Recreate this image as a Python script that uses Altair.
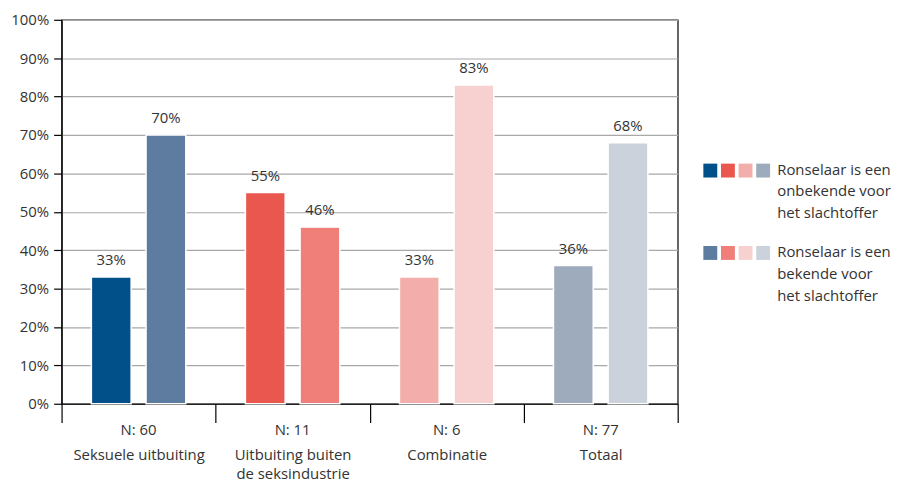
import altair as alt
import pandas as pd

categories = ["Seksuele uitbuiting", "Uitbuiting buiten de seksindustrie", "Combinatie", "Totaal"]
n_labels = ["N: 60", "N: 11", "N: 6", "N: 77"]
series = ["onbekend", "bekend"]
values_onbekend = [33, 55, 33, 36]
values_bekend = [70, 46, 83, 68]
colors_onbekend = ["#01508a", "#e9574f", "#f3aeab", "#9eabbd"]
colors_bekend = ["#5e7ca0", "#ef7f78", "#f7d1d0", "#cbd2dc"]
legend_texts = ["Ronselaar is een\nonbekende voor\nhet slachtoffer",
                "Ronselaar is een\nbekende voor\nhet slachtoffer"]

FONT = "Open Sans"
FS = 15
TXT = "#333333"
W, H = 621, 387

rows = []
for i, c in enumerate(categories):
    rows.append({"cat": c, "ser": "onbekend", "val": values_onbekend[i],
                 "key": f"{c}|onbekend", "lab": f"{values_onbekend[i]}%"})
    rows.append({"cat": c, "ser": "bekend", "val": values_bekend[i],
                 "key": f"{c}|bekend", "lab": f"{values_bekend[i]}%"})
df = pd.DataFrame(rows)
key_domain = [f"{c}|{s}" for c in categories for s in series]
key_range = [col for pair in zip(colors_onbekend, colors_bekend) for col in pair]

ndf = pd.DataFrame({"cat": categories, "n": n_labels})

xaxis = alt.Axis(tickBand="extent", tickSize=19, tickColor="#000", tickWidth=1.2,
                 domainColor="#000", domainWidth=1.2, labelAngle=0,
                 labelPadding=25, labelBaseline="top", labelFontSize=FS,
                 labelFont=FONT, labelColor=TXT, labelLineHeight=19,
                 labelExpr="datum.label == 'Uitbuiting buiten de seksindustrie' ? ['Uitbuiting buiten', 'de seksindustrie'] : datum.label")
xenc = alt.X("cat:N", sort=categories, title=None,
             scale=alt.Scale(paddingInner=0, paddingOuter=0), axis=xaxis)
xoff = alt.XOffset("ser:N", sort=series,
                   scale=alt.Scale(paddingInner=0.2727, paddingOuter=0.545))
yaxis = alt.Axis(values=list(range(0, 101, 10)), labelExpr="datum.value + '%'",
                 tickSize=8, tickColor="#000", tickWidth=1.2, domainColor="#000",
                 domainWidth=1.2, labelPadding=5, labelFontSize=FS, labelFont=FONT,
                 labelColor=TXT, grid=True, gridColor="#a8a8a8", gridWidth=1.2,
                 labelOverlap=False)
yenc = alt.Y("val:Q", title=None, scale=alt.Scale(domain=[0, 100]), axis=yaxis)

bars = alt.Chart(df).mark_bar(stroke="white", strokeWidth=1.5).encode(
    x=xenc, xOffset=xoff, y=yenc,
    color=alt.Color("key:N", scale=alt.Scale(domain=key_domain, range=key_range), legend=None),
)
labels = alt.Chart(df).mark_text(dy=-17, fontSize=FS, font=FONT, color=TXT).encode(
    x=xenc, xOffset=xoff, y=yenc, text="lab:N",
)
nlab = alt.Chart(ndf).mark_text(fontSize=FS, font=FONT, color=TXT, baseline="middle").encode(
    x=xenc, y=alt.value(H + 26), text="n:N",
)
main = alt.layer(bars, labels, nlab).properties(
    width=W, height=H, view=alt.ViewBackground(stroke="#000", strokeWidth=1.2))

# custom legend
LW = 170
lrows = []
row_pos = [1.83, 2.83]
for r, (cols, s) in enumerate([(colors_onbekend, "onbekend"), (colors_bekend, "bekend")]):
    for j, col in enumerate(cols):
        lrows.append({"row": row_pos[r], "idx": j + 0.5, "col": col})
ldf = pd.DataFrame(lrows)
tdf = pd.DataFrame({"row": row_pos, "idx": [4.3, 4.3], "txt": legend_texts})

lx = alt.Scale(domain=[0, LW / 17.75])
ly = alt.Scale(domain=[0, 4.66], reverse=True)
sq = alt.Chart(ldf).mark_square(size=196, opacity=1).encode(
    x=alt.X("idx:Q", scale=lx, axis=None),
    y=alt.Y("row:Q", scale=ly, axis=None),
    color=alt.Color("col:N", scale=None),
)
lt = alt.Chart(tdf).mark_text(align="left", baseline="top", dy=-8, fontSize=FS, font=FONT,
                              color=TXT, lineHeight=22, lineBreak="\n").encode(
    x=alt.X("idx:Q", scale=lx, axis=None),
    y=alt.Y("row:Q", scale=ly, axis=None),
    text="txt:N",
)
legend = alt.layer(sq, lt).properties(width=LW, height=H,
                                      view=alt.ViewBackground(stroke=None))

chart = alt.hconcat(main, legend, spacing=22).properties(
    padding={"left": 2, "top": 2, "right": 0, "bottom": 0})

chart.save("out.html", embed_options={"renderer": "svg", "actions": False})
